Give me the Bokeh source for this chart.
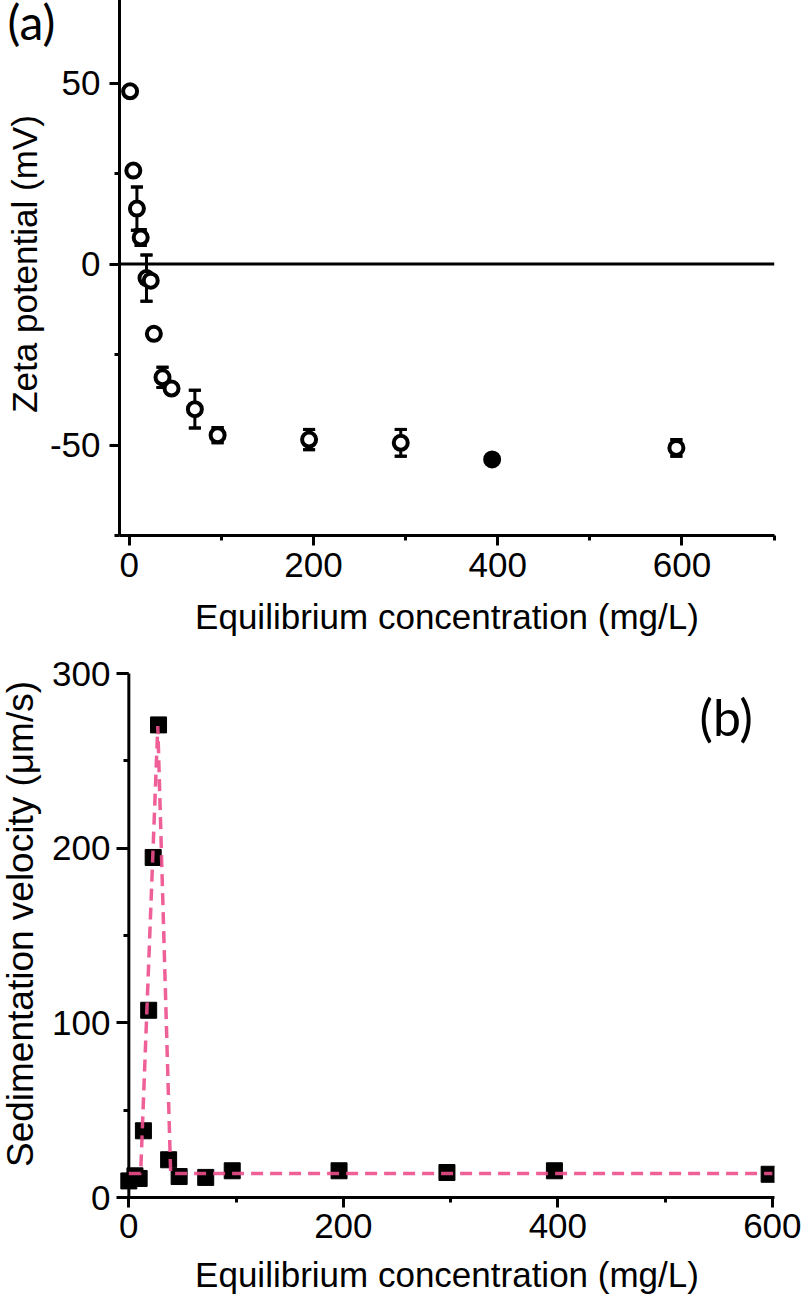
from bokeh.plotting import figure
from bokeh.layouts import column
from bokeh.models import (ColumnDataSource, Range1d, Span, Label, Title, Whisker, TeeHead,
                          SingleIntervalTicker)
from bokeh.embed import file_html
from bokeh.resources import INLINE

# ---------------- data: panel (a) ----------------
conc_a = [1, 4.5, 8.4, 12.5, 18.8, 23.4, 26.8, 36.2, 46, 71.3, 96, 195.3, 294.8, 394, 594]
zeta = [47.7, 25.8, 15.3, 7.3, -3.9, -4.6, -19.3, -31.3, -34.4, -40.1, -47.3, -48.5, -49.4, -54.0, -50.8]
zeta_err = [0, 0.3, 6.0, 2.2, 6.4, 0.4, 0.3, 2.8, 0.5, 5.2, 2.1, 2.8, 3.7, 0.4, 2.3]
solid_conc = [394]

# ---------------- data: panel (b) ----------------
conc_b = [0, 5.7, 9.6, 13.6, 18.5, 22.7, 27.7, 37.1, 46.9, 71.7, 96.4, 196, 296.6, 396.8, 597]
velocity = [9.5, 12.4, 10.9, 38.2, 107.2, 194.7, 270.6, 21.6, 12.0, 11.5, 15.3, 15.3, 14.3, 15.3, 13.3]
fit_conc = [0, 11, 27, 39, 600]
fit_vel = [13.7, 13.7, 270, 13.7, 13.7]

x_ticks_a = 200
y_ticks_a = 50
x_ticks_b = 200
y_ticks_b = 100
y_max_b = 300

FONT = "Liberation Sans"
W = 810


def style_axis(ax, size, standoff, label_standoff):
    ax.axis_line_width = 3
    ax.axis_line_color = "black"
    ax.major_tick_line_width = 3
    ax.minor_tick_line_width = 3
    ax.major_tick_line_color = "black"
    ax.minor_tick_line_color = "black"
    ax.major_tick_out = 10
    ax.major_tick_in = 0
    ax.minor_tick_out = 5
    ax.minor_tick_in = 0
    ax.major_label_text_font = FONT
    ax.major_label_text_font_size = size
    ax.major_label_text_color = "black"
    ax.major_label_standoff = standoff
    ax.axis_label_text_font = FONT
    ax.axis_label_text_font_size = size
    ax.axis_label_text_font_style = "normal"
    ax.axis_label_text_color = "black"
    ax.axis_label_standoff = label_standoff


# ---------- panel letter (a): an axis-less strip that panel (a) overlaps ----------
LETTER_H = 100
LETTER_BORDER = 116
pa = figure(width=W, height=LETTER_H, x_range=Range1d(0, 1), y_range=Range1d(0, 1),
            output_backend="svg", toolbar_location=None, title=None,
            x_axis_location=None, y_axis_location=None,
            min_border_left=LETTER_BORDER, min_border_right=0, min_border_top=0,
            min_border_bottom=0)
pa.xgrid.visible = False
pa.ygrid.visible = False
pa.outline_line_color = None
pa.add_layout(Title(text="(a)", text_font="Lato", text_font_size="48px",
                    text_font_style="normal", text_color="black", align="left",
                    vertical_align="top", offset=-(LETTER_BORDER - 4), standoff=0), "above")

# ---------------- panel (a) ----------------
p1 = figure(width=W, height=658, x_range=Range1d(-10.5, 700.5), y_range=Range1d(-75, 75),
            output_backend="svg", toolbar_location=None, title=None,
            min_border_left=127, min_border_right=4, min_border_top=0, min_border_bottom=115,
            margin=(-LETTER_H, 0, 0, 0))
p1.background_fill_alpha = 0
p1.border_fill_alpha = 0
p1.xgrid.visible = False
p1.ygrid.visible = False
p1.outline_line_color = None

p1.xaxis.ticker = SingleIntervalTicker(interval=x_ticks_a, num_minor_ticks=2)
p1.yaxis.ticker = SingleIntervalTicker(interval=y_ticks_a, num_minor_ticks=2)
p1.xaxis.axis_label = "Equilibrium concentration (mg/L)"
p1.yaxis.axis_label = "Zeta potential (mV)"
style_axis(p1.xaxis[0], "35px", 7, 17)
style_axis(p1.yaxis[0], "35px", 9, 3)
p1.yaxis.major_label_overrides = {-50: "-50"}

p1.add_layout(Span(location=0, dimension="width", line_color="black", line_width=3))

src_a = ColumnDataSource(dict(
    x=conc_a, y=zeta,
    upper=[v + e for v, e in zip(zeta, zeta_err)],
    lower=[v - e for v, e in zip(zeta, zeta_err)],
    fill=["black" if c in solid_conc else "white" for c in conc_a],
))

w_under = Whisker(source=src_a, base="x", upper="upper", lower="lower", line_width=3,
                  line_color="black", level="underlay",
                  upper_head=TeeHead(size=12, line_width=3, line_color="black"),
                  lower_head=TeeHead(size=12, line_width=3, line_color="black"))
p1.add_layout(w_under)
p1.scatter("x", "y", source=src_a, marker="circle", size=14, line_width=4,
           line_color="black", fill_color="fill")
w_caps = Whisker(source=src_a, base="x", upper="upper", lower="lower", line_alpha=0,
                 upper_head=TeeHead(size=12, line_width=3, line_color="black"),
                 lower_head=TeeHead(size=12, line_width=3, line_color="black"))
p1.add_layout(w_caps)

# ---------------- panel (b) ----------------
p2 = figure(width=W, height=655, x_range=Range1d(-8.7, 602), y_range=Range1d(0, 313.2),
            output_backend="svg", toolbar_location=None, title=None,
            min_border_left=116, min_border_right=28, min_border_top=0, min_border_bottom=108)
p2.xgrid.visible = False
p2.ygrid.visible = False
p2.outline_line_color = None

p2.xaxis.ticker = SingleIntervalTicker(interval=x_ticks_b, num_minor_ticks=2)
p2.yaxis.ticker = SingleIntervalTicker(interval=y_ticks_b, num_minor_ticks=2)
p2.xaxis.axis_label = "Equilibrium concentration (mg/L)"
p2.yaxis.axis_label = "Sedimentation velocity (\u03bcm/s)"
style_axis(p2.xaxis[0], "35px", 6, 14)
style_axis(p2.yaxis[0], "35px", 6, 8)
p2.yaxis.axis_label_text_font_size = "37px"
p2.yaxis.axis_line_color = None
p2.yaxis.major_tick_in = 9
p2.yaxis.major_tick_out = 3
p2.yaxis.minor_tick_in = 9
p2.yaxis.minor_tick_out = -4
p2.yaxis.bounds = (0, y_max_b)

# y axis line drawn at x = 0 (axes cross at the origin)
p2.segment(x0=[0], y0=[0], x1=[0], y1=[y_max_b], line_color="black", line_width=3)

src_b = ColumnDataSource(dict(x=conc_b, y=velocity))
p2.scatter("x", "y", source=src_b, marker="square", size=16, line_color="black",
           line_width=1, fill_color="black")
p2.line(fit_conc, fit_vel, line_color="#ec4f8c", line_alpha=0.9, line_width=3.5,
        line_dash="12 7")

p2.add_layout(Label(x=557, y=275, text="(b)", text_font="Lato", text_font_size="50px",
                    text_color="black", text_align="center", text_baseline="middle"))

layout = column(pa, p1, p2, spacing=0, margin=(-8, 0, -8, -8))
open("out.html", "w").write(file_html(layout, INLINE))
